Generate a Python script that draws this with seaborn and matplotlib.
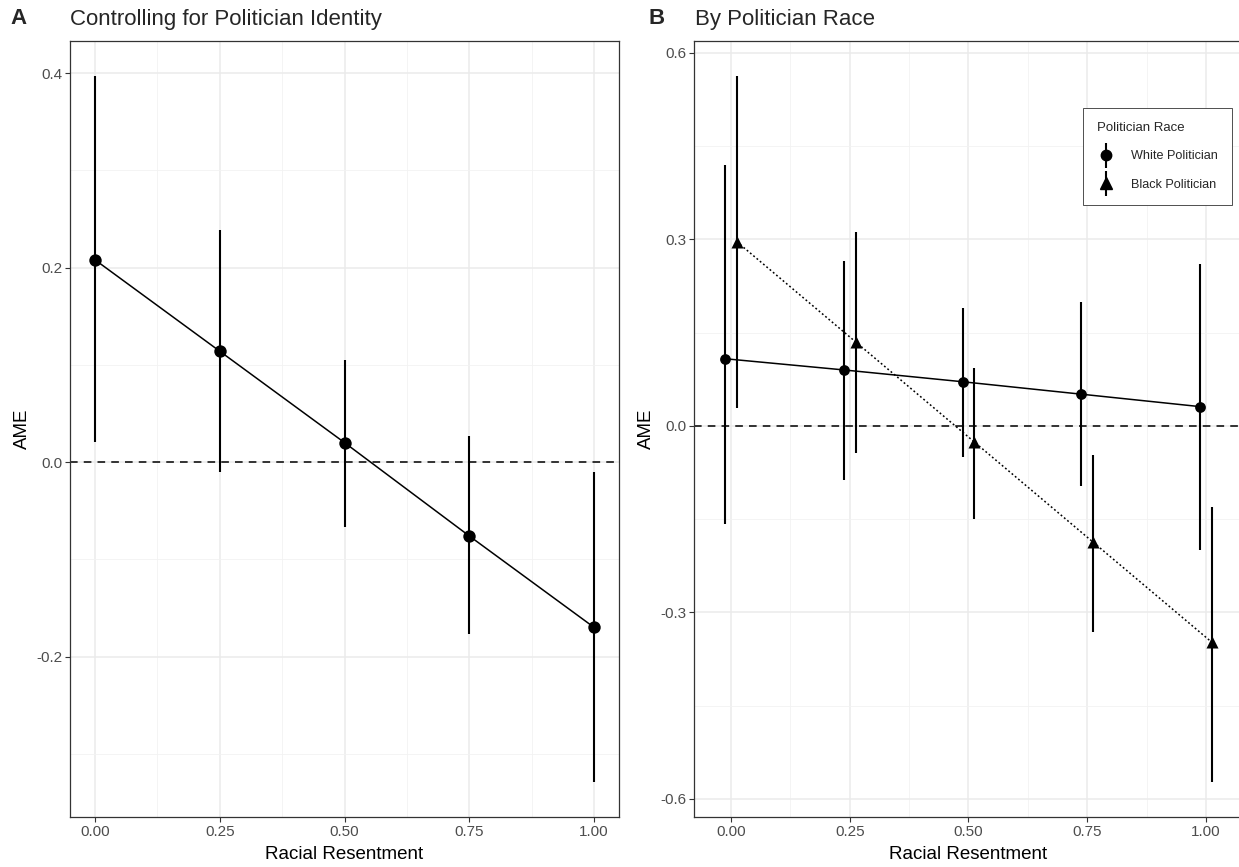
import numpy as np
import pandas as pd
import seaborn as sns
import matplotlib
matplotlib.use('Agg')
import matplotlib.pyplot as plt
from matplotlib.lines import Line2D
from matplotlib.legend_handler import HandlerTuple

# Panel A: pooled AME by racial resentment
rr = [0.0, 0.25, 0.5, 0.75, 1.0]
ame_a = [0.208, 0.114, 0.020, -0.076, -0.170]
lo_a = [0.021, -0.010, -0.067, -0.177, -0.329]
hi_a = [0.397, 0.239, 0.105, 0.027, -0.010]

# Panel B: by politician race
ame_white = [0.108, 0.090, 0.071, 0.051, 0.031]
lo_white = [-0.158, -0.087, -0.050, -0.097, -0.199]
hi_white = [0.420, 0.265, 0.190, 0.199, 0.261]
ame_black = [0.296, 0.135, -0.026, -0.187, -0.348]
lo_black = [0.029, -0.043, -0.150, -0.331, -0.573]
hi_black = [0.563, 0.312, 0.093, -0.047, -0.130]
dodge = 0.0125

sns.set_theme(style="whitegrid")
plt.rcParams['font.family'] = ['Liberation Sans', 'DejaVu Sans']
plt.rcParams['axes.unicode_minus'] = False

W, H = 1239, 867
fig = plt.figure(figsize=(W / 100, H / 100), dpi=100)


def px_axes(left, top, right, bottom):
    return fig.add_axes([left / W, 1 - bottom / H, (right - left) / W, (bottom - top) / H])


def style_axes(ax, xmaj, xmin, ymaj, ymin):
    ax.set_facecolor('white')
    ax.set_xticks(xmaj)
    ax.set_xticks(xmin, minor=True)
    ax.set_yticks(ymaj)
    ax.set_yticks(ymin, minor=True)
    ax.grid(True, which='major', color='#EBEBEB', linewidth=1.1)
    ax.grid(True, which='minor', color='#F2F2F2', linewidth=0.6)
    ax.set_axisbelow(True)
    for s in ax.spines.values():
        s.set_color('#333333')
        s.set_linewidth(0.9)
    ax.tick_params(which='major', direction='out', length=3.5, width=0.8, color='#333333',
                   labelsize=11, labelcolor='#4D4D4D', pad=2, left=True, bottom=True)
    ax.tick_params(which='minor', length=0)
    ax.set_xlabel('Racial Resentment', fontsize=13.5, labelpad=5, color='black')
    ax.set_ylabel('AME', fontsize=13.5, labelpad=4, color='black')


# ---- Panel A ----
axA = px_axes(70, 41, 619, 817)
df_a = pd.DataFrame({'rr': rr, 'ame': ame_a})
axA.axhline(0, color='black', linestyle=(0, (5, 4)), linewidth=1.1, zorder=1)
axA.vlines(rr, lo_a, hi_a, color='black', linewidth=1.5, zorder=2)
sns.lineplot(data=df_a, x='rr', y='ame', color='black', linewidth=1.1, ax=axA, zorder=3)
sns.scatterplot(data=df_a, x='rr', y='ame', color='black', s=80, edgecolor='black',
                linewidth=0, ax=axA, zorder=4)
axA.set_xlim(-0.05, 1.05)
axA.set_ylim(-0.365, 0.433)
style_axes(axA, rr, [0.125, 0.375, 0.625, 0.875],
           [-0.2, 0.0, 0.2, 0.4], [-0.3, -0.1, 0.1, 0.3])
axA.set_xticklabels(['0.00', '0.25', '0.50', '0.75', '1.00'])
axA.set_yticklabels(['-0.2', '0.0', '0.2', '0.4'])
fig.text(10 / W, 1 - 19 / H, 'A', fontsize=16, fontweight='bold', va='center')
fig.text(70 / W, 1 - 19 / H, 'Controlling for Politician Identity', fontsize=16, va='center')

# ---- Panel B ----
xlo, xhi = -0.078, 1.076
bl, br = 694, 1242
axB = px_axes(bl, 41, br, 817)
x_white = [v - dodge for v in rr]
x_black = [v + dodge for v in rr]
df_w = pd.DataFrame({'rr': x_white, 'ame': ame_white})
df_b = pd.DataFrame({'rr': x_black, 'ame': ame_black})
axB.axhline(0, color='black', linestyle=(0, (5, 4)), linewidth=1.1, zorder=1)
axB.vlines(x_white, lo_white, hi_white, color='black', linewidth=1.5, zorder=2)
axB.vlines(x_black, lo_black, hi_black, color='black', linewidth=1.5, zorder=2)
sns.lineplot(data=df_w, x='rr', y='ame', color='black', linewidth=1.1, ax=axB, zorder=3)
sns.lineplot(data=df_b, x='rr', y='ame', color='black', linewidth=1.1, ax=axB, zorder=3,
             linestyle=(0, (1.2, 1.6)))
sns.scatterplot(data=df_w, x='rr', y='ame', color='black', marker='o', s=60,
                linewidth=0, ax=axB, zorder=4)
sns.scatterplot(data=df_b, x='rr', y='ame', color='black', marker='^', s=75,
                linewidth=0, ax=axB, zorder=4)
axB.set_xlim(xlo, xhi)
axB.set_ylim(-0.629, 0.619)
style_axes(axB, rr, [0.125, 0.375, 0.625, 0.875],
           [-0.6, -0.3, 0.0, 0.3, 0.6], [-0.45, -0.15, 0.15, 0.45])
axB.set_xticklabels(['0.00', '0.25', '0.50', '0.75', '1.00'])
axB.set_yticklabels(['-0.6', '-0.3', '0.0', '0.3', '0.6'])
fig.text(648 / W, 1 - 19 / H, 'B', fontsize=16, fontweight='bold', va='center')
fig.text(695 / W, 1 - 19 / H, 'By Politician Race', fontsize=16, va='center')

bar = dict(marker='|', markersize=18, markeredgewidth=1.5, color='black', linestyle='none')
h_white = (Line2D([], [], **bar), Line2D([], [], marker='o', markersize=7.5, color='black', linestyle='none'))
h_black = (Line2D([], [], **bar), Line2D([], [], marker='^', markersize=8.5, color='black', linestyle='none'))
leg = axB.legend([h_white, h_black], ['White Politician', 'Black Politician'],
                 handler_map={tuple: HandlerTuple(ndivide=1)},
                 title='Politician Race', loc='upper left',
                 bbox_to_anchor=((1083 - bl) / (br - bl), 1 - (108 - 41) / 776),
                 fontsize=9.1, title_fontsize=9.5, frameon=True, fancybox=False,
                 edgecolor='#333333', framealpha=1, borderpad=1.1, labelspacing=1.3,
                 handlelength=1.4, handletextpad=1.3, borderaxespad=0)
leg.get_frame().set_linewidth(0.6)
leg._legend_box.align = 'left'

fig.savefig('out.png', dpi=100)
